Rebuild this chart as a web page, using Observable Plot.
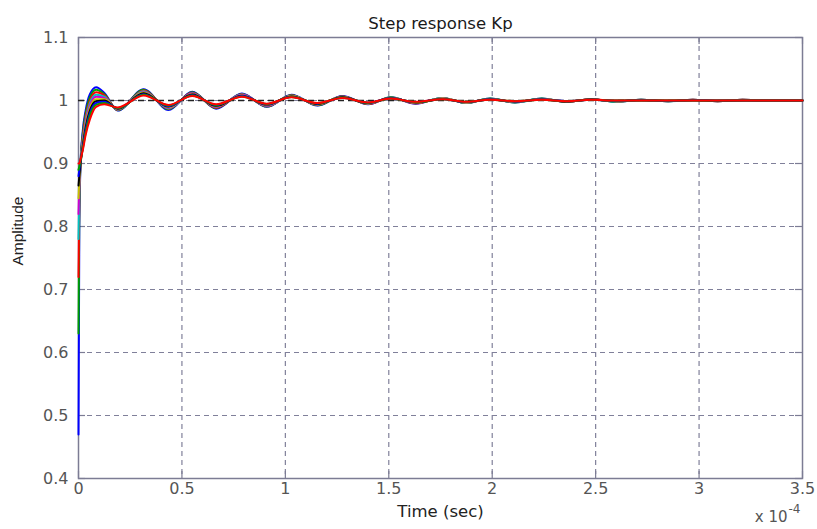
<!DOCTYPE html>
<html>
<head>
<meta charset="utf-8">
<script src="https://cdn.jsdelivr.net/npm/d3@7"></script>
<script src="https://cdn.jsdelivr.net/npm/@observablehq/plot@0.6"></script>
<style>
  html, body { margin: 0; padding: 0; background: #ffffff; }
</style>
</head>
<body>
<div id="chart"></div>
<script>
// Time samples, in units of 1e-4 s (axis shows "x 10^-4")
const time = [0, 0.004, 0.01, 0.02, 0.035, 0.055, 0.085, 0.125, 0.19,
  0.315, 0.435, 0.55, 0.665, 0.79, 0.91, 1.03, 1.155, 1.275, 1.40,
  1.51, 1.63, 1.76, 1.875, 1.99, 2.11, 2.24, 2.36, 2.48, 2.60,
  2.72, 2.85, 2.97, 3.09, 3.21, 3.33, 3.5];

// Amplitude of each step response
const blue1 = [0.47, 0.80, 0.90, 0.950, 0.985, 1.010, 1.021, 1.012, 0.984,
  1.018, 0.985, 1.014, 0.987, 1.011, 0.990, 1.009, 0.992, 1.007, 0.994,
  1.005, 0.995, 1.004, 0.996, 1.003, 0.997, 1.003, 0.998, 1.002, 0.998,
  1.001, 0.999, 1.001, 0.999, 1.001, 1.000, 1.000];
const green1 = [0.63, 0.83, 0.90, 0.945, 0.980, 1.005, 1.017, 1.010, 0.9845,
  1.017, 0.986, 1.013, 0.988, 1.0105, 0.9905, 1.0085, 0.9925, 1.0065, 0.9945,
  1.005, 0.9955, 1.004, 0.996, 1.003, 0.997, 1.003, 0.998, 1.002, 0.998,
  1.001, 0.999, 1.001, 0.999, 1.001, 1.000, 1.000];
const red1 = [0.72, 0.85, 0.90, 0.940, 0.975, 1.000, 1.013, 1.008, 0.985,
  1.016, 0.987, 1.0125, 0.9885, 1.010, 0.991, 1.008, 0.993, 1.0065, 0.9945,
  1.0045, 0.9955, 1.0035, 0.9965, 1.0025, 0.9975, 1.0025, 0.998, 1.002, 0.9985,
  1.001, 0.999, 1.001, 0.999, 1.001, 1.000, 1.000];
const cyan1 = [0.78, 0.86, 0.90, 0.936, 0.970, 0.996, 1.009, 1.006, 0.9855,
  1.0145, 0.9875, 1.0115, 0.9895, 1.0095, 0.9915, 1.0075, 0.9935, 1.006, 0.995,
  1.0045, 0.996, 1.0035, 0.9965, 1.0025, 0.9975, 1.002, 0.9985, 1.0015, 0.9985,
  1.001, 0.999, 1.0005, 0.9995, 1.0005, 1.000, 1.000];
const magenta1 = [0.82, 0.87, 0.90, 0.932, 0.966, 0.992, 1.006, 1.004, 0.986,
  1.0135, 0.9885, 1.011, 0.990, 1.009, 0.992, 1.007, 0.994, 1.0055, 0.9955,
  1.004, 0.9965, 1.003, 0.997, 1.002, 0.998, 1.002, 0.9985, 1.0015, 0.999,
  1.0005, 0.9995, 1.0005, 0.9995, 1.0005, 1.000, 1.000];
const yellow1 = [0.845, 0.875, 0.90, 0.929, 0.962, 0.988, 1.002, 1.002, 0.9865,
  1.0125, 0.9895, 1.010, 0.991, 1.008, 0.993, 1.007, 0.994, 1.0055, 0.9955,
  1.004, 0.9965, 1.003, 0.997, 1.002, 0.998, 1.002, 0.9985, 1.0015, 0.999,
  1.0005, 0.9995, 1.0005, 0.9995, 1.0005, 1.000, 1.000];
const black1 = [0.865, 0.88, 0.90, 0.926, 0.958, 0.984, 0.999, 1.000, 0.987,
  1.0115, 0.9905, 1.0095, 0.9915, 1.0075, 0.9935, 1.0065, 0.9945, 1.005, 0.996,
  1.0035, 0.997, 1.0025, 0.9975, 1.0015, 0.9985, 1.0015, 0.9985, 1.0015, 0.9995,
  1.0005, 0.9995, 1.0005, 0.9995, 1.000, 1.000, 1.000];
const blue2 = [0.88, 0.89, 0.905, 0.924, 0.954, 0.980, 0.996, 0.998, 0.9875,
  1.010, 0.991, 1.0085, 0.9925, 1.007, 0.994, 1.006, 0.995, 1.0045, 0.9965,
  1.0035, 0.9975, 1.0025, 0.9975, 1.0015, 0.9985, 1.0015, 0.999, 1.001, 0.9995,
  1.0005, 0.9995, 1.0005, 1.000, 1.000, 1.000, 1.000];
const green2 = [0.89, 0.895, 0.905, 0.922, 0.950, 0.976, 0.993, 0.996, 0.988,
  1.009, 0.992, 1.008, 0.993, 1.0065, 0.9945, 1.0055, 0.9955, 1.0045, 0.9965,
  1.003, 0.9975, 1.002, 0.998, 1.001, 0.999, 1.001, 0.999, 1.001, 1.000,
  1.000, 1.000, 1.000, 1.000, 1.000, 1.000, 1.000];
const red2 = [0.90, 0.90, 0.907, 0.920, 0.946, 0.970, 0.990, 0.994, 0.989,
  1.008, 0.993, 1.007, 0.994, 1.006, 0.995, 1.005, 0.996, 1.004, 0.997,
  1.003, 0.998, 1.002, 0.998, 1.001, 0.999, 1.001, 0.999, 1.001, 1.000,
  1.000, 1.000, 1.000, 1.000, 1.000, 1.000, 1.000];

const seriesValues = [blue1, green1, red1, cyan1, magenta1, yellow1, black1, blue2, green2, red2];
const seriesColors = ["#0000ff", "#00a000", "#ff0000", "#00c4c4", "#d000d0", "#c4c400", "#000000", "#0000ff", "#00a000", "#ff0000"];

const finalValue = [1];
const xTicks = [0, 0.5, 1, 1.5, 2, 2.5, 3, 3.5];
const xTickLabels = ["0", "0.5", "1", "1.5", "2", "2.5", "3", "3.5"];
const yTicks = [0.4, 0.5, 0.6, 0.7, 0.8, 0.9, 1.0, 1.1];
const yTickLabels = ["0.4", "0.5", "0.6", "0.7", "0.8", "0.9", "1", "1.1"];

const W = 817, H = 529;
const mL = 78, mR = 15, mT = 37, mB = 51;
const innerW = W - mL - mR, innerH = H - mT - mB;
const tickLen = 7;
const axisColor = "#7c7c94";
const gridColor = "#80809a";

const lineMarks = seriesValues.map((vals, k) =>
  Plot.line(time.map((t, i) => ({t, a: vals[i]})), {
    x: "t", y: "a", stroke: seriesColors[k], strokeWidth: 2, curve: "monotone-x"
  })
);

const chart = Plot.plot({
  width: W, height: H,
  marginLeft: mL, marginRight: mR, marginTop: mT, marginBottom: mB,
  style: {fontFamily: "DejaVu Sans", fontSize: "16px", background: "#ffffff"},
  x: {domain: [0, 3.5], axis: null},
  y: {domain: [0.4, 1.1], axis: null},
  marks: [
    Plot.ruleX(xTicks.slice(1, -1), {x: d => d, stroke: gridColor, strokeWidth: 1.2, strokeDasharray: "5,4"}),
    Plot.ruleY(yTicks.slice(1, -1), {y: d => d, stroke: gridColor, strokeWidth: 1.2, strokeDasharray: "5,4"}),
    Plot.tickX(xTicks, {x: d => d, stroke: axisColor, strokeWidth: 1.2, insetTop: innerH - tickLen}),
    Plot.tickX(xTicks, {x: d => d, stroke: axisColor, strokeWidth: 1.2, insetBottom: innerH - tickLen}),
    Plot.tickY(yTicks, {y: d => d, stroke: axisColor, strokeWidth: 1.2, insetRight: innerW - tickLen}),
    Plot.tickY(yTicks, {y: d => d, stroke: axisColor, strokeWidth: 1.2, insetLeft: innerW - tickLen}),
    Plot.frame({stroke: axisColor, strokeWidth: 1.5}),
    Plot.ruleY(finalValue, {y: d => d, stroke: "#222222", strokeWidth: 1.4, strokeDasharray: "6,4"}),
    ...lineMarks,
    Plot.text(xTicks, {x: d => d, text: (d, i) => xTickLabels[i], frameAnchor: "bottom", dy: 15, fill: "#555555", fontSize: 16}),
    Plot.text(yTicks, {y: d => d, text: (d, i) => yTickLabels[i], frameAnchor: "left", textAnchor: "end", dx: -10, fill: "#555555", fontSize: 16}),
    Plot.text(["Step response Kp"], {frameAnchor: "top", dy: -20, fill: "#1a1a1a", fontSize: 16.5}),
    Plot.text(["Time (sec)"], {frameAnchor: "bottom", dy: 38, fill: "#222222", fontSize: 16.5}),
    Plot.text(["Amplitude"], {frameAnchor: "left", dx: -60, dy: 7.5, rotate: -90, fill: "#222222", fontSize: 15.5, fontFamily: "Liberation Sans"}),
    Plot.text(["x 10"], {frameAnchor: "bottom-right", dx: -15, dy: 43, textAnchor: "end", fill: "#555555", fontSize: 15}),
    Plot.text(["-4"], {frameAnchor: "bottom-right", dx: -14, dy: 34, textAnchor: "start", fill: "#555555", fontSize: 12})
  ]
});

document.getElementById("chart").appendChild(chart);
</script>
</body>
</html>
